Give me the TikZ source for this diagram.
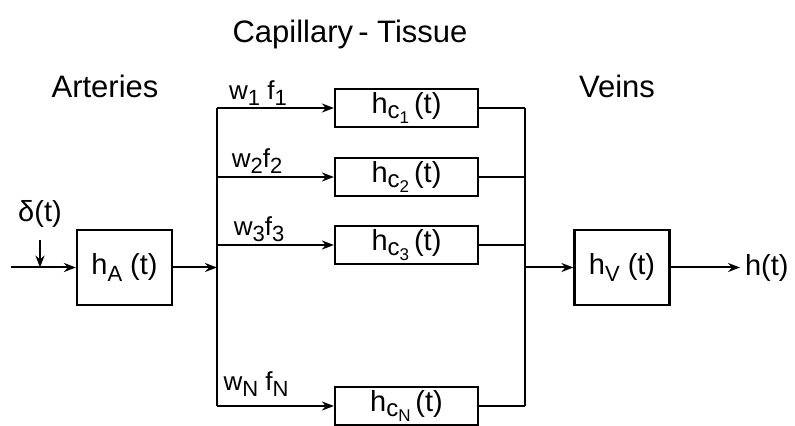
\documentclass[tikz,border=0pt]{standalone}
\usepackage{fontspec}
\setmainfont{Liberation Sans}
\usepackage{tikz}
\usetikzlibrary{arrows.meta,positioning,calc}
\newcommand{\sub}[1]{\raisebox{-0.45ex}{\fontsize{11}{11}\selectfont #1}}
\newcommand{\hcap}[1]{h\raisebox{-0.35ex}{\fontsize{12}{12}\selectfont c\raisebox{-0.35ex}{\fontsize{8.5}{8.5}\selectfont #1}}\,(t)}

\begin{document}
\begin{tikzpicture}[
  x=0.5pt, y=-0.5pt,
  font=\fontsize{14.5}{16}\selectfont,
  line width=1pt,
  block/.style={draw,line width=1.1pt,minimum width=47.5pt,minimum height=37.5pt,inner sep=0pt},
  capbox/.style={draw,line width=1.1pt,minimum width=71.5pt,minimum height=19pt,inner sep=0pt},
  lab/.style={font=\fontsize{13}{15}\selectfont,inner sep=1pt},
  title/.style={font=\fontsize{15.5}{17}\selectfont},
  arrow/.style={-{Stealth[length=6pt,width=4.5pt]}}
]
\useasboundingbox (0,0) rectangle (795,426);
% section headings
\node[title] (cap) at (350,34) {Capillary\,- Tissue};
\node[title] (art) at (105,86) {Arteries};
\node[title] (vei) at (617,86) {Veins};

% blocks
\node[block] (hA) at (124.5,267.5) {h\sub{A} (t)};
\node[block] (hV) at (622,267.5) {h\sub{V} (t)};
\node[capbox] (c1) at (406.5,108) {\hcap{1}};
\node[capbox] (c2) at (406.5,177) {\hcap{2}};
\node[capbox] (c3) at (406.5,245) {\hcap{3}};
\node[capbox] (cN) at (406.5,406) {\hcap{N}};

% branch points and ends
\coordinate (split) at (217,267.5);
\coordinate (merge) at (525,267.5);
\coordinate (in) at (11,267.5);
\coordinate (out) at (740,267.5);
\node[anchor=west,inner sep=2pt] (h) at (out) {h(t)};
\node (delta) at (40,214) {δ(t)};

% weights
\node[lab] (w1) at (258,93) {w\sub{1} f\sub{1}};
\node[lab] (w2) at (257,161) {w\sub{2}f\sub{2}};
\node[lab] (w3) at (259,229) {w\sub{3}f\sub{3}};
\node[lab] (wN) at (256,384) {w\sub{N} f\sub{N}};

% connectors
\draw[arrow] (in) -- (hA);
\draw[arrow] ([yshift=-13pt]delta.center) -- (delta |- hA);
\draw[arrow] (hA) -- (split);
\draw (split |- c1) -- (split |- cN);
\foreach \c in {c1,c2,c3,cN}
  \draw[arrow] (split |- \c) -- (\c);
\foreach \c in {c1,c2,c3,cN}
  \draw (\c) -- (merge |- \c);
\draw (merge |- c1) -- (merge |- cN);
\draw[arrow] (merge) -- (hV);
\draw[arrow] (hV) -- (out);
\end{tikzpicture}
\end{document}
